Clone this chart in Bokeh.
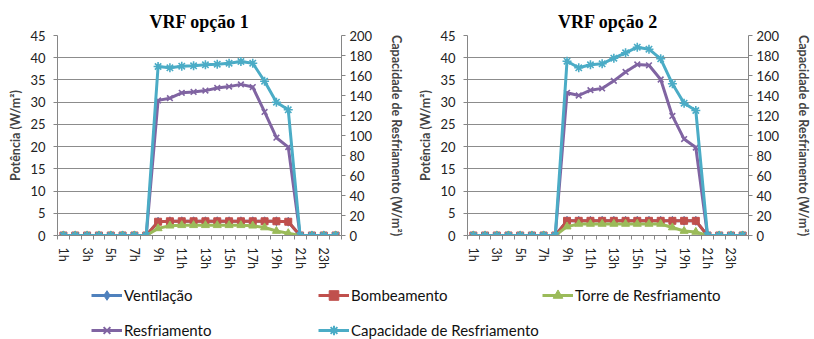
from bokeh.plotting import figure
from bokeh.models import Range1d, LinearAxis, FixedTicker, Legend, LegendItem
from bokeh.layouts import column, row
from bokeh.embed import file_html
from bokeh.resources import INLINE

hours = ["1h", "2h", "3h", "4h", "5h", "6h", "7h", "8h", "9h", "10h", "11h", "12h",
         "13h", "14h", "15h", "16h", "17h", "18h", "19h", "20h", "21h", "22h", "23h", "24h"]

# VRF opção 1
vent1 = [0, 0, 0, 0, 0, 0, 0, 0, 3.1, 3.2, 3.2, 3.2, 3.2, 3.2, 3.2, 3.2, 3.2, 3.2, 3.2, 3.1, 0, 0, 0, 0]
bomb1 = [0, 0, 0, 0, 0, 0, 0, 0, 3.1, 3.2, 3.2, 3.2, 3.2, 3.2, 3.2, 3.2, 3.2, 3.2, 3.2, 3.1, 0, 0, 0, 0]
torre1 = [0, 0, 0, 0, 0, 0, 0, 0, 1.6, 2.2, 2.3, 2.3, 2.3, 2.3, 2.3, 2.3, 2.2, 1.8, 1.0, 0.5, 0, 0, 0, 0]
resf1 = [0, 0, 0, 0, 0, 0, 0, 0, 30.4, 30.9, 32.1, 32.3, 32.6, 33.2, 33.5, 34.0, 33.4, 27.8, 22.0, 19.9, 0, 0, 0, 0]
cap1 = [0, 0, 0, 0, 0, 0, 0, 0, 169.0, 167.7, 169.3, 169.7, 170.7, 171.3, 172.3, 174.0, 172.3, 154.3, 133.3, 125.7, 0, 0, 0, 0]

# VRF opção 2
vent2 = [0, 0, 0, 0, 0, 0, 0, 0, 3.3, 3.3, 3.3, 3.3, 3.3, 3.3, 3.3, 3.3, 3.3, 3.3, 3.3, 3.3, 0, 0, 0, 0]
bomb2 = [0, 0, 0, 0, 0, 0, 0, 0, 3.3, 3.3, 3.3, 3.3, 3.3, 3.3, 3.3, 3.3, 3.3, 3.3, 3.3, 3.3, 0, 0, 0, 0]
torre2 = [0, 0, 0, 0, 0, 0, 0, 0, 2.0, 2.6, 2.6, 2.6, 2.6, 2.6, 2.6, 2.6, 2.6, 1.8, 1.0, 0.8, 0, 0, 0, 0]
resf2 = [0, 0, 0, 0, 0, 0, 0, 0, 32.1, 31.5, 32.7, 33.1, 34.8, 36.8, 38.5, 38.3, 35.1, 26.9, 21.7, 19.8, 0, 0, 0, 0]
cap2 = [0, 0, 0, 0, 0, 0, 0, 0, 174.3, 167.7, 170.7, 171.7, 177.3, 182.7, 188.3, 186.3, 176.7, 151.7, 132.3, 125.0, 0, 0, 0, 0]

left_ticks = [0, 5, 10, 15, 20, 25, 30, 35, 40, 45]
right_ticks = [0, 20, 40, 60, 80, 100, 120, 140, 160, 180, 200]

series_names = ["Ventilação", "Bombeamento", "Torre de Resfriamento", "Resfriamento", "Capacidade de Resfriamento"]
colors = ["#4F81BD", "#C0504D", "#9BBB59", "#8064A2", "#4BACC6"]
markers = ["diamond", "square", "triangle", "x", "asterisk"]
msizes = [9, 7, 8, 8, 9]

TICK_FONT = "Lato"
GRID = "#8c8c8c"
AXIS = "#868686"

x = list(range(1, len(hours) + 1))


def make_chart(title, data, bl, br):
    p = figure(width=407, height=280, output_backend="svg", toolbar_location=None,
               x_range=Range1d(0.5, len(hours) + 0.5), y_range=Range1d(0, 45),
               min_border_left=bl, min_border_right=br, min_border_top=35, min_border_bottom=45,
               title=title)
    p.extra_y_ranges = {"cap": Range1d(0, 200)}
    p.outline_line_color = None
    p.background_fill_color = "white"
    p.border_fill_color = "white"

    p.title.align = "center"
    p.title.text_font = "Liberation Serif"
    p.title.text_font_style = "bold"
    p.title.text_font_size = "18px"
    p.title.text_color = "#000000"
    p.title.standoff = 7

    # x axis
    xa = p.xaxis[0]
    xa.ticker = FixedTicker(ticks=x[0::2], minor_ticks=[v - 0.5 for v in x] + [x[-1] + 0.5])
    xa.major_label_overrides = {x[i]: hours[i] for i in range(0, len(hours), 2)}
    xa.major_label_orientation = "vertical"
    xa.major_tick_line_color = None
    xa.major_tick_out = 0
    xa.major_tick_in = 0
    xa.minor_tick_line_color = AXIS
    xa.minor_tick_out = 4
    xa.minor_tick_in = 0
    xa.major_label_standoff = 8
    xa.axis_line_color = AXIS
    xa.major_label_text_font = TICK_FONT
    xa.major_label_text_font_size = "12.5px"
    xa.major_label_text_color = "#222222"

    # left axis
    ya = p.yaxis[0]
    ya.ticker = FixedTicker(ticks=left_ticks)
    ya.minor_tick_line_color = None
    ya.major_tick_out = 4
    ya.major_tick_in = 0
    ya.major_tick_line_color = AXIS
    ya.axis_line_color = AXIS
    ya.major_label_standoff = 8
    ya.major_label_text_font = TICK_FONT
    ya.major_label_text_font_size = "13px"
    ya.major_label_text_color = "#222222"
    ya.axis_label = "Potência (W/m²)"
    ya.axis_label_text_font = "Lato"
    ya.axis_label_text_font_style = "bold"
    ya.axis_label_text_font_size = "12.5px"
    ya.axis_label_standoff = 4

    # right axis
    ra = LinearAxis(y_range_name="cap", ticker=FixedTicker(ticks=right_ticks))
    ra.minor_tick_line_color = None
    ra.major_tick_out = 4
    ra.major_tick_in = 0
    ra.major_tick_line_color = AXIS
    ra.axis_line_color = AXIS
    ra.major_label_standoff = 4
    ra.major_label_text_font = TICK_FONT
    ra.major_label_text_font_size = "13px"
    ra.major_label_text_color = "#222222"
    ra.axis_label = "Capacidade de Resfriamento (W/m²)"
    ra.axis_label_text_font = "Lato"
    ra.axis_label_text_font_style = "bold"
    ra.axis_label_text_font_size = "12.5px"
    ra.axis_label_standoff = 14
    p.add_layout(ra, "right")

    p.xgrid.grid_line_color = None
    p.ygrid.ticker = FixedTicker(ticks=left_ticks)
    p.ygrid.grid_line_color = GRID
    p.ygrid.grid_line_width = 1

    for i, vals in enumerate(data):
        kw = {"y_range_name": "cap"} if i == 4 else {}
        p.line(x, vals, line_color=colors[i], line_width=3, line_join="round", **kw)
        if markers[i] in ("x", "asterisk"):
            p.scatter(x, vals, marker=markers[i], size=msizes[i], line_color=colors[i],
                      line_width=1.6, **kw)
        else:
            p.scatter(x, vals, marker=markers[i], size=msizes[i], fill_color=colors[i],
                      line_color=colors[i], **kw)
    return p


p1 = make_chart("VRF opção 1", [vent1, bomb1, torre1, resf1, cap1], 57, 61)
p2 = make_chart("VRF opção 2", [vent2, bomb2, torre2, resf2, cap2], 60, 57)

leg = figure(width=814, height=59, output_backend="svg", toolbar_location=None,
             x_range=Range1d(0, 1), y_range=Range1d(0, 1), min_border=0,
             x_axis_location=None, y_axis_location=None)
leg.grid.visible = False
leg.outline_line_color = None

# proxy renderers (outside the visible range) only used to draw legend keys
positions = [(91, 32), (318, 32), (542, 32), (91, -3), (318, -3)]
for i, name in enumerate(series_names):
    rl = leg.line([-5, -4], [-5, -4], line_color=colors[i], line_width=3)
    if markers[i] in ("x", "asterisk"):
        rs = leg.scatter([-5], [-5], marker=markers[i], size=msizes[i], line_color=colors[i], line_width=2)
    else:
        rs = leg.scatter([-5], [-5], marker=markers[i], size=msizes[i], fill_color=colors[i], line_color=colors[i])
    L = Legend(items=[LegendItem(label=name, renderers=[rl, rs])], location=positions[i],
               orientation="horizontal", glyph_width=31, glyph_height=24, label_height=24,
               label_standoff=2, padding=0, margin=0, border_line_color=None,
               background_fill_alpha=0, label_text_font="Lato", label_text_font_size="15px",
               label_text_color="#111111")
    leg.add_layout(L)

layout = column(row(p1, p2), leg)
open("out.html", "w").write(file_html(layout, INLINE))
